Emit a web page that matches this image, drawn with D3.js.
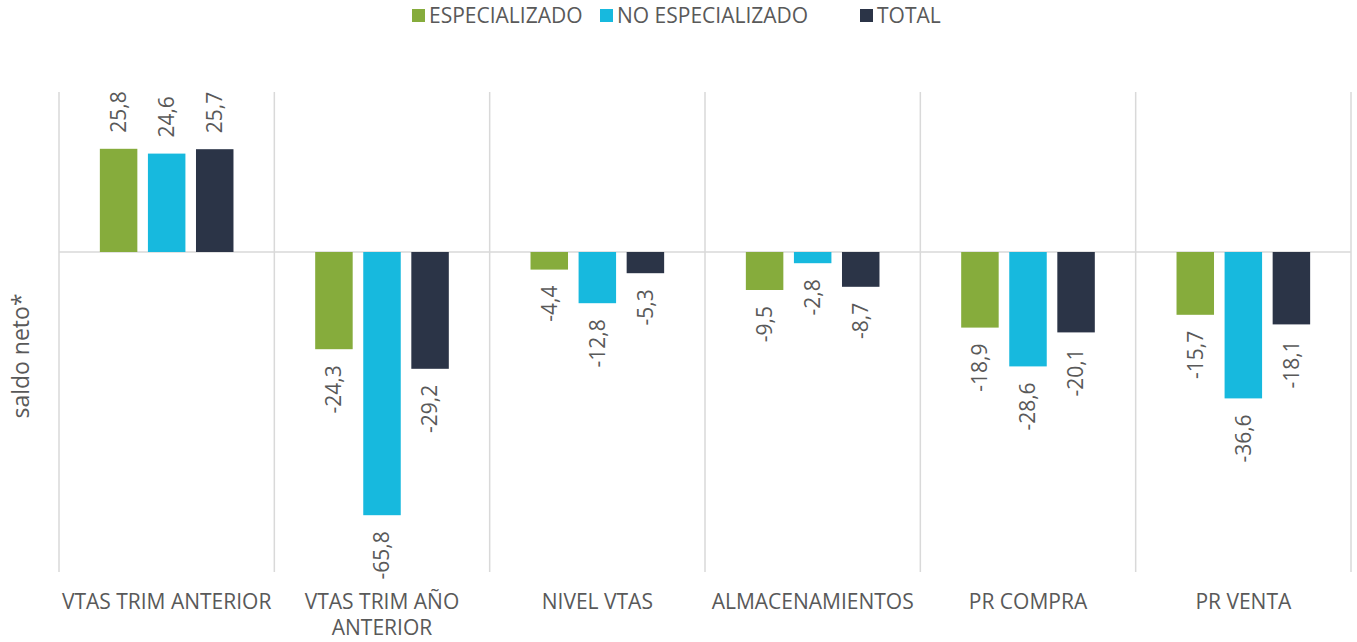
<!DOCTYPE html>
<html>
<head>
<meta charset="utf-8">
<script src="https://cdn.jsdelivr.net/npm/d3@7"></script>
<style>
  body { margin: 0; background: #fff; }
  svg text { font-family: "Open Sans", "Noto Sans", sans-serif; fill: #595959; }
</style>
</head>
<body>
<div id="chart"></div>
<script>
var categories = ["VTAS TRIM ANTERIOR", "VTAS TRIM AÑO ANTERIOR", "NIVEL VTAS", "ALMACENAMIENTOS", "PR COMPRA", "PR VENTA"];
var seriesNames = ["ESPECIALIZADO", "NO ESPECIALIZADO", "TOTAL"];
var especializado = [25.8, -24.3, -4.4, -9.5, -18.9, -15.7];
var noEspecializado = [24.6, -65.8, -12.8, -2.8, -28.6, -36.6];
var total = [25.7, -29.2, -5.3, -8.7, -20.1, -18.1];
var colors = ["#86ac3c", "#17b9de", "#2b3447"];

var width = 1357, height = 642;
var margin = { top: 92, right: 6, bottom: 70, left: 59 };

var svg = d3.select("#chart").append("svg")
    .attr("width", width)
    .attr("height", height);

var x0 = d3.scaleBand()
    .domain(categories)
    .range([margin.left, width - margin.right])
    .padding(0);

var x1 = d3.scaleBand()
    .domain(seriesNames)
    .range([0, x0.bandwidth()])
    .paddingInner(0.22)
    .paddingOuter(0.85);

var y = d3.scaleLinear()
    .domain([-80, 40])
    .range([height - margin.bottom, margin.top]);

var data = categories.map(function (c, i) {
    return {
        cat: c,
        values: [especializado[i], noEspecializado[i], total[i]].map(function (v, j) {
            return { name: seriesNames[j], value: v, color: colors[j] };
        })
    };
});

// vertical separators
var bounds = categories.map(function (c) { return x0(c); }).concat([x0.range()[1]]);
svg.append("g").selectAll("line")
    .data(bounds)
    .enter()
    .append("line")
    .attr("x1", function (d) { return d; })
    .attr("x2", function (d) { return d; })
    .attr("y1", y.range()[1])
    .attr("y2", y.range()[0])
    .attr("stroke", "#d9d9d9")
    .attr("stroke-width", 1.5);

// zero line
svg.append("line")
    .attr("x1", x0.range()[0])
    .attr("x2", x0.range()[1])
    .attr("y1", y(0))
    .attr("y2", y(0))
    .attr("stroke", "#d9d9d9")
    .attr("stroke-width", 1.5);

var groups = svg.selectAll(".grp")
    .data(data)
    .enter()
    .append("g")
    .attr("class", "grp")
    .attr("transform", function (d) { return "translate(" + x0(d.cat) + ",0)"; });

groups.selectAll("rect")
    .data(function (d) { return d.values; })
    .enter()
    .append("rect")
    .attr("x", function (d) { return x1(d.name); })
    .attr("width", x1.bandwidth())
    .attr("y", function (d) { return d.value >= 0 ? y(d.value) : y(0); })
    .attr("height", function (d) { return Math.abs(y(d.value) - y(0)); })
    .attr("fill", function (d) { return d.color; });

groups.selectAll(".lbl")
    .data(function (d) { return d.values; })
    .enter()
    .append("text")
    .attr("class", "lbl")
    .attr("font-size", "21px")
    .attr("dy", "0.35em")
    .attr("text-anchor", function (d) { return d.value >= 0 ? "start" : "end"; })
    .attr("transform", function (d) {
        var cx = x1(d.name) + x1.bandwidth() / 2;
        var ty = d.value >= 0 ? y(d.value) - 16 : y(d.value) + 16;
        return "translate(" + cx + "," + ty + ") rotate(-90)";
    })
    .text(function (d) { return d.value.toFixed(1).replace(".", ","); });

// category labels
svg.append("g").selectAll("text")
    .data(categories)
    .enter()
    .append("text")
    .attr("x", function (d) { return x0(d) + x0.bandwidth() / 2; })
    .attr("y", 609)
    .attr("text-anchor", "middle")
    .attr("font-size", "21px")
    .each(function (d) {
        var t = d3.select(this);
        if (d === "VTAS TRIM AÑO ANTERIOR") {
            t.append("tspan").attr("x", t.attr("x")).text("VTAS TRIM AÑO");
            t.append("tspan").attr("x", t.attr("x")).attr("dy", 26).text("ANTERIOR");
        } else {
            t.text(d);
        }
    });

// y axis title
svg.append("text")
    .attr("transform", "translate(29,356) rotate(-90)")
    .attr("text-anchor", "middle")
    .attr("font-size", "23px")
    .text("saldo neto*");

// legend
var legendX = [412, 600, 860];
var legend = svg.append("g").selectAll("g")
    .data(seriesNames)
    .enter()
    .append("g")
    .attr("transform", function (d, i) { return "translate(" + legendX[i] + ",9)"; });
legend.append("rect")
    .attr("width", 13)
    .attr("height", 13)
    .attr("fill", function (d, i) { return colors[i]; });
legend.append("text")
    .attr("x", 17)
    .attr("y", 7)
    .attr("dy", "0.35em")
    .attr("font-size", "21px")
    .text(function (d) { return d; });
</script>
</body>
</html>
